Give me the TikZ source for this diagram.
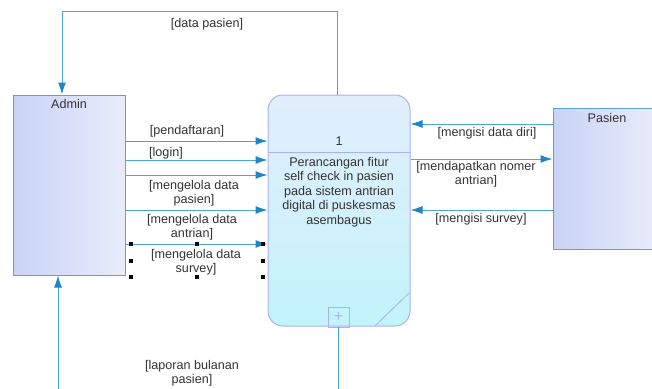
\documentclass[tikz,border=0pt]{standalone}
\usepackage{fontspec}
\setmainfont{Liberation Sans}
\usetikzlibrary{arrows.meta}
\definecolor{flowblue}{HTML}{1F86C6}
\definecolor{lineblue}{HTML}{4CA6D8}
\definecolor{boxline}{HTML}{5DA2D4}
\definecolor{boxdark}{HTML}{C9D3F5}
\definecolor{boxlight}{HTML}{E8ECFB}
\definecolor{proctop}{HTML}{E2EEFC}
\definecolor{procbot}{HTML}{C2F3FB}
\definecolor{procline}{HTML}{A9B2F2}
\definecolor{txtgray}{HTML}{333333}

\begin{document}
\begin{tikzpicture}[x=1pt,y=-1pt,
  lbl/.style={text=txtgray,font=\fontsize{12.6}{14.5}\selectfont,align=center,inner sep=0pt},
  entity/.style={draw=boxline,line width=1pt,left color=boxdark,right color=boxlight},
  flow/.style={draw=lineblue,line width=1pt,-{Latex[length=12pt,width=8pt,color=flowblue]}},
  handle/.style={fill=black,minimum size=4pt,inner sep=0pt}]
\useasboundingbox (0,0) rectangle (652,388);
% external entities and process
\node[entity,minimum width=112pt,minimum height=180pt] (admin) at (69,185) {};
\node[lbl] (admintxt) at (69,104) {Admin};
\node[entity,minimum width=103pt,minimum height=141pt] (pasien) at (604.5,178.5) {};
\node[lbl] (pasientxt) at (607,118) {Pasien};
\node[draw=procline,line width=1pt,rounded corners=15pt,top color=proctop,bottom color=procbot,
  minimum width=142pt,minimum height=231pt] (proc) at (339,210.5) {};
\draw[procline,line width=0.8pt] (proc.west |- 0,152) -- (proc.east |- 0,152);
\node[lbl] (procnum) at (339,141) {1};
\node[lbl] (proctxt) at (339,192) {Perancangan fitur\\self check in pasien\\pada sistem antrian\\digital di puskesmas\\asembagus};
\node[draw=procline,line width=0.8pt,text=procline,font=\fontsize{16}{16}\selectfont,minimum width=21pt,minimum height=20pt,inner sep=0pt] (plus) at (338.5,317) {+};
\draw[procline,line width=0.8pt] (375,326) -- (409,293);
% flows admin -> process
\draw[flow] (admin.east |- 0,141) -- (proc.west |- 0,141);
\draw[flow] (admin.east |- 0,160) -- (proc.west |- 0,160);
\draw[flow] (admin.east |- 0,175) -- (proc.west |- 0,175);
\draw[flow] (admin.east |- 0,210) -- (proc.west |- 0,210);
\draw[flow] (admin.east |- 0,244) -- (proc.west |- 0,244);
\node[lbl] (l1) at (187,131) {[pendaftaran]};
\node[lbl] (l2) at (166,153) {[login]};
\node[lbl] (l3) at (194,193) {[mengelola data\\pasien]};
\node[lbl] (l4) at (192,227) {[mengelola data\\antrian]};
\node[lbl] (l5) at (196,262) {[mengelola data\\survey]};
% selection handles
\foreach \hx/\hy in {131/244,197/244,263/244,131/261,263/261,131/277,197/277,263/277}
  \node[handle] at (\hx,\hy) {};
% flows pasien <-> process
\draw[flow] (pasien.west |- 0,124) -- (proc.east |- 0,124);
\draw[flow] (proc.east |- 0,159) -- (pasien.west |- 0,159);
\draw[flow] (pasien.west |- 0,210) -- (proc.east |- 0,210);
\node[lbl] (r1) at (487,133) {[mengisi data diri]};
\node[lbl] (r2) at (476,174) {[mendapatkan nomer\\antrian]};
\node[lbl] (r3) at (481,219) {[mengisi survey]};
% loops over the top and bottom
\draw[flow] ([xshift=-2pt]proc.north) -- ([xshift=-2pt]proc.north |- 0,11) -| ([xshift=-7pt]admin.north);
\node[lbl] (t1) at (207,24) {[data pasien]};
\draw[flow] (plus.south) -- (plus.south |- 0,396) -| ([xshift=-11pt]admin.south);
\node[lbl] (b1) at (192,373) {[laporan bulanan\\pasien]};
\end{tikzpicture}
\end{document}
